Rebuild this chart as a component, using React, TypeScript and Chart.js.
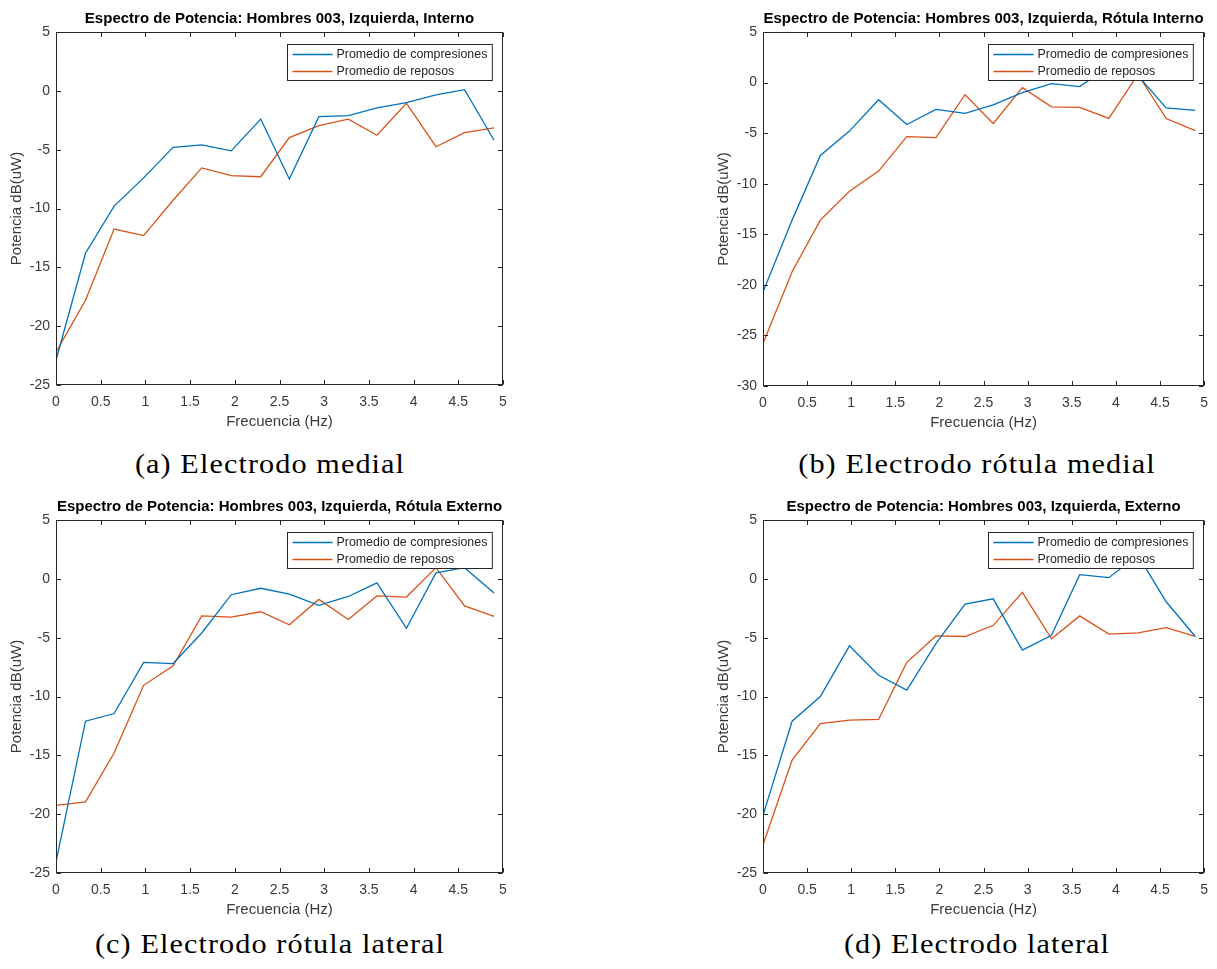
import React, { useEffect, useRef } from "react";
import { Chart, registerables } from "chart.js";

Chart.register(...registerables);

// Frequency bins (Hz)
const freqHz = [0, 0.33, 0.65, 0.98, 1.31, 1.63, 1.96, 2.29, 2.61, 2.94, 3.27, 3.59, 3.92, 4.25, 4.57, 4.9];

// (a) Electrodo medial
const medialCompresiones = [-22.9, -13.8, -9.8, -7.4, -4.8, -4.6, -5.1, -2.4, -7.5, -2.2, -2.1, -1.45, -1.0, -0.35, 0.1, -4.2];
const medialReposos = [-22.2, -17.8, -11.75, -12.3, -9.3, -6.55, -7.2, -7.3, -3.97, -2.95, -2.4, -3.77, -1.05, -4.75, -3.55, -3.15];

// (b) Electrodo rótula medial
const rotulaMedialCompresiones = [-20.7, -13.6, -7.2, -4.8, -1.7, -4.15, -2.65, -3.05, -2.2, -1.0, -0.1, -0.4, 1.6, 0.7, -2.5, -2.75];
const rotulaMedialReposos = [-25.8, -18.7, -13.6, -10.75, -8.75, -5.35, -5.45, -1.2, -4.05, -0.5, -2.4, -2.45, -3.55, 0.8, -3.55, -4.75];

// (c) Electrodo rótula lateral
const rotulaLateralCompresiones = [-24.05, -12.1, -11.45, -7.1, -7.2, -4.6, -1.35, -0.8, -1.3, -2.25, -1.5, -0.35, -4.2, 0.5, 0.95, -1.2];
const rotulaLateralReposos = [-19.25, -18.95, -14.8, -9.05, -7.4, -3.15, -3.25, -2.8, -3.9, -1.75, -3.45, -1.45, -1.55, 0.95, -2.3, -3.2];

// (d) Electrodo lateral
const lateralCompresiones = [-20.1, -12.1, -10.0, -5.7, -8.2, -9.45, -5.5, -2.15, -1.7, -6.05, -4.8, 0.35, 0.1, 2.0, -1.95, -4.9];
const lateralReposos = [-22.6, -15.4, -12.3, -12.0, -11.95, -7.1, -4.85, -4.9, -3.95, -1.15, -5.1, -3.15, -4.7, -4.6, -4.15, -4.9];

// Axis ticks
const xTickValues = [0, 0.5, 1, 1.5, 2, 2.5, 3, 3.5, 4, 4.5, 5];
const yTicks25 = [-25, -20, -15, -10, -5, 0, 5];
const yTicks30 = [-30, -25, -20, -15, -10, -5, 0, 5];

const seriesLabels = ["Promedio de compresiones", "Promedio de reposos"];
const titles = [
  "Espectro de Potencia: Hombres 003, Izquierda, Interno",
  "Espectro de Potencia: Hombres 003, Izquierda, Rótula Interno",
  "Espectro de Potencia: Hombres 003, Izquierda, Rótula Externo",
  "Espectro de Potencia: Hombres 003, Izquierda, Externo",
];
const captions = [
  "(a) Electrodo medial",
  "(b) Electrodo rótula medial",
  "(c) Electrodo rótula lateral",
  "(d) Electrodo lateral",
];

const BLUE = "#0072BD";
const ORANGE = "#D95319";
const AXIS_COLOR = "#262626";
const TEXT_COLOR = "#3a3a3a";
const SANS = '"Liberation Sans", Arial, Helvetica, sans-serif';

// Box, inward tick marks and an in-axes legend, drawn over the lines
const axesFrame = {
  id: "axesFrame",
  afterDatasetsDraw(chart: any) {
    const { ctx, chartArea: a, scales } = chart;
    const L = Math.round(a.left) + 0.5;
    const R = Math.round(a.right) - 0.5;
    const T = Math.round(a.top) + 0.5;
    const B = Math.round(a.bottom) - 0.5;
    ctx.save();
    ctx.strokeStyle = AXIS_COLOR;
    ctx.lineWidth = 1;
    ctx.strokeRect(L, T, R - L, B - T);
    const len = 4.5;
    ctx.beginPath();
    scales.x.ticks.forEach((t: any) => {
      const px = Math.round(scales.x.getPixelForValue(t.value)) + 0.5;
      ctx.moveTo(px, B);
      ctx.lineTo(px, B - len);
      ctx.moveTo(px, T);
      ctx.lineTo(px, T + len);
    });
    scales.y.ticks.forEach((t: any) => {
      const py = Math.round(scales.y.getPixelForValue(t.value)) + 0.5;
      ctx.moveTo(L, py);
      ctx.lineTo(L + len, py);
      ctx.moveTo(R, py);
      ctx.lineTo(R - len, py);
    });
    ctx.stroke();

    // legend
    ctx.font = `12.4px ${SANS}`;
    const ds = chart.data.datasets;
    const textW = Math.max(...ds.map((d: any) => ctx.measureText(d.label).width));
    const lineLen = 40;
    const w = 5 + lineLen + 4 + textW + 5;
    const h = 36;
    const bx = Math.round(R - 11 - w) + 0.5;
    const by = Math.round(T + 11) + 0.5;
    ctx.fillStyle = "#ffffff";
    ctx.fillRect(bx, by, w, h);
    ctx.strokeStyle = AXIS_COLOR;
    ctx.lineWidth = 1;
    ctx.strokeRect(bx, by, w, h);
    ds.forEach((d: any, i: number) => {
      const cy = by + 10 + i * 17;
      ctx.strokeStyle = d.borderColor;
      ctx.lineWidth = d.borderWidth;
      ctx.beginPath();
      ctx.moveTo(bx + 5, cy);
      ctx.lineTo(bx + 5 + lineLen, cy);
      ctx.stroke();
      ctx.fillStyle = "#262626";
      ctx.textBaseline = "middle";
      ctx.textAlign = "left";
      ctx.fillText(d.label, bx + 5 + lineLen + 4, cy + 0.5);
    });
    ctx.restore();
  },
};

type Panel = {
  title: string;
  comp: number[];
  rest: number[];
  yTicks: number[];
  left: number;
  top: number;
  width: number;
  height: number;
  padRight: number;
};

const panels: Panel[] = [
  { title: titles[0], comp: medialCompresiones, rest: medialReposos, yTicks: yTicks25, left: 0, top: 0, width: 520, height: 440, padRight: 17 },
  { title: titles[1], comp: rotulaMedialCompresiones, rest: rotulaMedialReposos, yTicks: yTicks30, left: 707, top: 0, width: 510, height: 441, padRight: 7 },
  { title: titles[2], comp: rotulaLateralCompresiones, rest: rotulaLateralReposos, yTicks: yTicks25, left: 0, top: 488, width: 520, height: 440, padRight: 17 },
  { title: titles[3], comp: lateralCompresiones, rest: lateralReposos, yTicks: yTicks25, left: 707, top: 488, width: 510, height: 440, padRight: 7 },
];

function buildConfig(p: Panel): any {
  const toPoints = (ys: number[]) => freqHz.map((x, i) => ({ x, y: ys[i] }));
  return {
    type: "line",
    data: {
      datasets: [
        { label: seriesLabels[0], data: toPoints(p.comp), borderColor: BLUE, borderWidth: 1.3, pointRadius: 0, tension: 0, fill: false },
        { label: seriesLabels[1], data: toPoints(p.rest), borderColor: ORANGE, borderWidth: 1.3, pointRadius: 0, tension: 0, fill: false },
      ],
    },
    options: {
      animation: false,
      responsive: false,
      events: [],
      layout: { padding: { left: 0, right: p.padRight, top: 0, bottom: 0 } },
      plugins: {
        legend: { display: false },
        tooltip: { enabled: false },
        title: {
          display: true,
          fullSize: false,
          text: p.title,
          color: "#000000",
          font: { family: SANS, size: 15, weight: "bold" },
          padding: { top: 10, bottom: 4 },
        },
      },
      scales: {
        x: {
          type: "linear",
          min: 0,
          max: 5,
          afterBuildTicks: (s: any) => {
            s.ticks = xTickValues.map((v) => ({ value: v }));
          },
          grid: { display: false, drawTicks: false },
          border: { display: false },
          ticks: {
            color: TEXT_COLOR,
            font: { family: SANS, size: 14 },
            padding: 9,
            maxRotation: 0,
            autoSkip: false,
            callback: (v: any) => String(v),
          },
          title: {
            display: true,
            text: "Frecuencia (Hz)",
            color: TEXT_COLOR,
            font: { family: SANS, size: 15 },
            padding: { top: 0, bottom: 9 },
          },
          afterFit: (s: any) => {
            s.height = 55;
          },
        },
        y: {
          type: "linear",
          min: p.yTicks[0],
          max: p.yTicks[p.yTicks.length - 1],
          afterBuildTicks: (s: any) => {
            s.ticks = p.yTicks.map((v) => ({ value: v }));
          },
          grid: { display: false, drawTicks: false },
          border: { display: false },
          ticks: {
            color: TEXT_COLOR,
            font: { family: SANS, size: 14 },
            padding: 6,
            autoSkip: false,
            callback: (v: any) => String(v),
          },
          title: {
            display: true,
            text: "Potencia dB(uW)",
            color: TEXT_COLOR,
            font: { family: SANS, size: 15 },
            padding: { top: 8, bottom: 0 },
          },
          afterFit: (s: any) => {
            s.width = 56;
          },
        },
      },
    },
    plugins: [axesFrame],
  };
}

function SpectrumChart({ panel }: { panel: Panel }) {
  const ref = useRef<HTMLCanvasElement | null>(null);
  useEffect(() => {
    if (!ref.current) return;
    const chart = new Chart(ref.current, buildConfig(panel));
    return () => chart.destroy();
  }, [panel]);
  return (
    <canvas
      ref={ref}
      width={panel.width}
      height={panel.height}
      style={{ position: "absolute", left: panel.left, top: panel.top, width: panel.width, height: panel.height }}
    />
  );
}

const captionPos = [
  { cx: 270, top: 448 },
  { cx: 977, top: 448 },
  { cx: 270, top: 928 },
  { cx: 977, top: 928 },
];

export default function App() {
  return (
    <div style={{ position: "absolute", left: 0, top: 0, width: 1217, height: 969, background: "#ffffff", overflow: "hidden" }}>
      {panels.map((p, i) => (
        <SpectrumChart key={i} panel={p} />
      ))}
      {captions.map((c, i) => (
        <div
          key={c}
          style={{
            position: "absolute",
            left: captionPos[i].cx - 250,
            top: captionPos[i].top,
            width: 500,
            textAlign: "center",
            fontFamily: '"Liberation Serif", "Times New Roman", serif',
            fontSize: 28,
            lineHeight: "32px",
            letterSpacing: "1px",
            color: "#000000",
            transform: "scaleX(1.08)",
            whiteSpace: "nowrap",
          }}
        >
          {c}
        </div>
      ))}
    </div>
  );
}
